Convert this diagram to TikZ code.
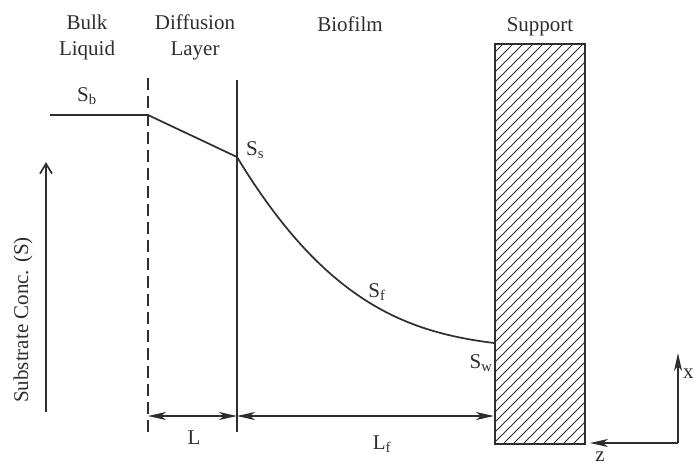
\documentclass[tikz,border=0pt]{standalone}
\usepackage{fontspec}
\setmainfont{Liberation Serif}
\usetikzlibrary{arrows.meta}
\definecolor{ink}{HTML}{2E2E2E}
\tikzset{
  lbl/.style={font=\fontsize{21}{26}\selectfont, text=ink, inner sep=0pt},
  ln/.style={draw=ink, line width=1.7pt},
  dimarrow/.style={ln, {Stealth[length=18pt,width=8pt,inset=5pt]}-{Stealth[length=18pt,width=8pt,inset=5pt]}},
  axarrow/.style={ln, -{Stealth[length=18pt,width=8pt,inset=5pt]}},
}
\begin{document}
\begin{tikzpicture}[x=1pt,y=-1pt]
\useasboundingbox (0,0) rectangle (695,467);
% coordinates
\coordinate (bulkstart) at (50,115);
\coordinate (sb) at (148,115);
\coordinate (dtop) at (148,78);
\coordinate (dbot) at (148,434);
\coordinate (btop) at (237,80);
\coordinate (bbot) at (237,432);
\coordinate (ss) at (237,157);
\coordinate (sw) at (494,343);
\coordinate (Lleft) at (148,416);
\coordinate (Lmid) at (237,416);
\coordinate (Lright) at (494,416);
\coordinate (sa0) at (46,412);
\coordinate (sa1) at (46,162);
\coordinate (ax0) at (678,443);
\coordinate (axx) at (678,353);
\coordinate (axz) at (590,443);
% support hatching
\begin{scope}
  \clip (494,43) rectangle (584,443);
  \foreach \k in {84,94,...,594} {
    \draw[ink, line width=1pt] (\k,443) -- (\k+400,43);
  }
\end{scope}
\node[draw=ink, line width=1.7pt, minimum width=90pt, minimum height=400pt, inner sep=0pt, anchor=north west] (support) at (494,43) {};
% headers
\node[lbl, align=center] (bulk) at (87,37) {Bulk\\Liquid};
\node[lbl, align=center] (diff) at (195,37) {Diffusion\\Layer};
\node[lbl, anchor=base] (biofilm) at (350,31) {Biofilm};
\node[lbl, anchor=base] (supp) at (540,31) {Support};
% boundaries
\draw[ln, dash pattern=on 12pt off 6pt] (dtop) -- (dbot);
\draw[ln] (btop) -- (bbot);
% profile
\draw[ln] (bulkstart) -- (sb) -- (ss) .. controls (325,302) and (406,332) .. (sw);
% labels
\node[lbl] (lsb) at (87,96) {S\textsubscript{b}};
\node[lbl, anchor=west] (lss) at (246,150) {S\textsubscript{s}};
\node[lbl] (lsf) at (377,292) {S\textsubscript{f}};
\node[lbl] (lsw) at (481,363) {S\textsubscript{w}};
% dimensions
\draw[dimarrow] (Lleft) -- (Lmid);
\draw[dimarrow] (Lmid) -- (Lright);
\node[lbl] (lL) at (194,438) {L};
\node[lbl] (lLf) at (382,444) {L\textsubscript{f}};
% substrate axis
\draw[ln, -{Straight Barb[length=10pt,width=12pt]}] (sa0) -- (sa1);
\node[lbl, rotate=90] (subs) at (23,320) {Substrate Conc. (S)};
% coordinate axes
\draw[axarrow] (ax0) -- (axx);
\draw[axarrow] (ax0) -- (axz);
\node[lbl, anchor=west] (lx) at (683,374) {x};
\node[lbl] (lz) at (600,457) {z};
\end{tikzpicture}
\end{document}
